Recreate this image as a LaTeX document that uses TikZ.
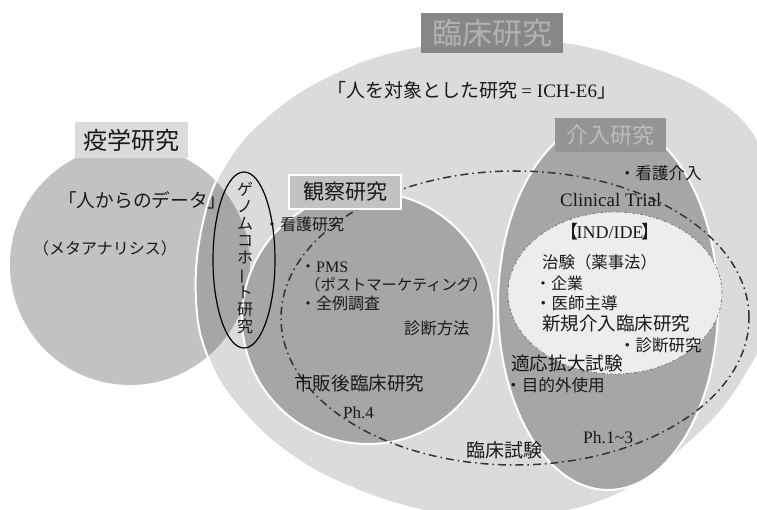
\documentclass[tikz,border=0pt]{standalone}
\usepackage{fontspec}
\setmainfont{Noto Sans CJK JP}
\newfontfamily\lat{Liberation Serif}
\definecolor{cLight}{gray}{0.86}
\definecolor{cMed}{gray}{0.76}
\definecolor{cDark}{gray}{0.65}
\definecolor{cInd}{gray}{0.93}
\definecolor{cHeadA}{gray}{0.53}
\definecolor{cHeadAtxt}{gray}{0.70}
\definecolor{cHeadB}{gray}{0.58}
\definecolor{cHeadBtxt}{gray}{0.74}
\definecolor{txt}{gray}{0.1}
\definecolor{dashc}{gray}{0.2}
\definecolor{indc}{gray}{0.45}
\begin{document}
\begin{tikzpicture}[x=1pt,y=-1pt,
  lbl/.style={anchor=west, inner sep=0pt, text=txt},
  whiteline/.style={draw=white, line width=2pt},
  headbox/.style={inner sep=0pt, anchor=center}]
\useasboundingbox (0,0) rectangle (757,510);
\clip (0,0) rectangle (757,510);
\fill[white] (0,0) rectangle (757,510);
% epidemiology circle
\fill[cMed] (130,265) circle (120pt);
% big clinical research region
\fill[cLight] plot[smooth cycle, tension=0.7] coordinates {(228,160) (272,112) (330,75) (400,50) (480,40) (565,42) (645,64) (712,95) (758,140) (778,210) (782,280) (765,338) (746,375) (722,410) (690,442) (650,475) (605,500) (550,514) (480,518) (420,510) (352,488) (292,456) (243,412) (210,362) (196,300) (203,222)};
\begin{scope}
\clip (130,265) circle (120pt);
\fill[cDark] plot[smooth cycle, tension=0.7] coordinates {(228,160) (272,112) (330,75) (400,50) (480,40) (565,42) (645,64) (712,95) (758,140) (778,210) (782,280) (765,338) (746,375) (722,410) (690,442) (650,475) (605,500) (550,514) (480,518) (420,510) (352,488) (292,456) (243,412) (210,362) (196,300) (203,222)};
\end{scope}
\draw[whiteline] plot[smooth cycle, tension=0.7] coordinates {(228,160) (272,112) (330,75) (400,50) (480,40) (565,42) (645,64) (712,95) (758,140) (778,210) (782,280) (765,338) (746,375) (722,410) (690,442) (650,475) (605,500) (550,514) (480,518) (420,510) (352,488) (292,456) (243,412) (210,362) (196,300) (203,222)};
% observational circle
\filldraw[fill=cDark, whiteline] (368,318) circle (126pt);
% interventional ellipse
\filldraw[fill=cDark, whiteline] (608,305) ellipse [x radius=110pt, y radius=185pt];
% IND/IDE circle
\filldraw[fill=cInd, draw=indc, line width=0.7pt, dash pattern=on 3pt off 2pt on 1pt off 2pt] (615,293) ellipse [x radius=107pt, y radius=81pt];
% clinical trial dash-dot ellipse
\draw[dashc, line width=1.5pt, dash pattern=on 8pt off 4pt on 1.5pt off 4pt] (515,318) ellipse [x radius=234pt, y radius=147pt];
% genome cohort ellipse
\draw[black, line width=1.2pt] (244,260) ellipse [x radius=31pt, y radius=88pt];

% header boxes
\node[headbox, fill=cHeadA, minimum width=142pt, minimum height=40pt, text=cHeadAtxt, font=\fontsize{30}{32}\selectfont] (rinsho) at (492,33) {臨床研究};
\node[headbox, fill=cHeadB, minimum width=111pt, minimum height=34pt, text=cHeadBtxt, font=\fontsize{22}{24}\selectfont] (kainyu) at (610,135) {介入研究};
\node[headbox, fill=cMed, draw=white, line width=1.5pt, minimum width=112pt, minimum height=34pt, text=txt, font=\fontsize{21}{23}\selectfont] (kansatsu) at (345,192) {観察研究};
\node[headbox, fill=cLight, minimum width=113pt, minimum height=36pt, text=txt, font=\fontsize{24}{26}\selectfont] (ekigaku) at (131,140) {疫学研究};

% texts
\node[lbl, font=\fontsize{19}{21}\selectfont] (taisho) at (327,90) {「人を対象とした研究 {\lat = ICH-E6}」};
\node[lbl, font=\fontsize{18.7}{20}\selectfont] (data) at (58,200) {「人からのデータ」};
\node[lbl, font=\fontsize{16}{18}\selectfont] (meta) at (33,248) {（メタアナリシス）};
\node[inner sep=0pt, align=center, text=txt, font=\fontsize{16}{16.9}\selectfont] (genome) at (245,258) {ゲ\\ノ\\ム\\コ\\ホ\\\rotatebox[origin=c]{90}{ー}\\ト\\研\\究};
\node[lbl, font=\fontsize{16}{18}\selectfont] (kango) at (264,224) {・看護研究};
\node[lbl, font=\fontsize{16}{18}\selectfont] (pms) at (300,267) {・{\lat PMS}};
\node[lbl, font=\fontsize{15.3}{17}\selectfont] (post) at (305,285) {（ポストマーケティング）};
\node[lbl, font=\fontsize{16}{18}\selectfont] (zenrei) at (300,303) {・全例調査};
\node[lbl, font=\fontsize{16.3}{18}\selectfont] (shindanhoho) at (404,328) {診断方法};
\node[lbl, font=\fontsize{18.6}{20}\selectfont] (shihango) at (294,383) {市販後臨床研究};
\node[lbl, font=\lat\fontsize{17}{19}\selectfont] (ph4) at (343,413) {Ph.4};
\node[lbl, font=\fontsize{19}{21}\selectfont] (shiken) at (466,450) {臨床試験};
\node[lbl, font=\fontsize{16.5}{18}\selectfont] (kangokainyu) at (619,173) {・看護介入};
\node[lbl, font=\lat\fontsize{19}{21}\selectfont] (ct) at (560,200) {Clinical Trial};
\node[inner sep=0pt, text=txt, font=\fontsize{18}{20}\selectfont] (ind) at (610,232) {\kern-0.3em【\kern-0.12em{\lat IND/IDE}\kern-0.12em】\kern-0.3em};
\node[lbl, font=\fontsize{16.4}{18}\selectfont] (chiken) at (542,262) {治験（薬事法）};
\node[lbl, font=\fontsize{16}{18}\selectfont] (kigyo) at (535,283) {・企業};
\node[lbl, font=\fontsize{16.5}{18}\selectfont] (ishi) at (535,303) {・医師主導};
\node[lbl, font=\fontsize{18.5}{20}\selectfont] (shinki) at (542,323) {新規介入臨床研究};
\node[lbl, font=\fontsize{16.5}{18}\selectfont] (shindankenkyu) at (619,345) {・診断研究};
\node[lbl, font=\fontsize{18.6}{20}\selectfont] (tekio) at (511,363) {適応拡大試験};
\node[lbl, font=\fontsize{16.6}{18}\selectfont] (mokuteki) at (505,385) {・目的外使用};
\node[lbl, font=\lat\fontsize{17.5}{19}\selectfont] (ph13) at (583,438) {Ph.1\textasciitilde3};
\end{tikzpicture}
\end{document}
